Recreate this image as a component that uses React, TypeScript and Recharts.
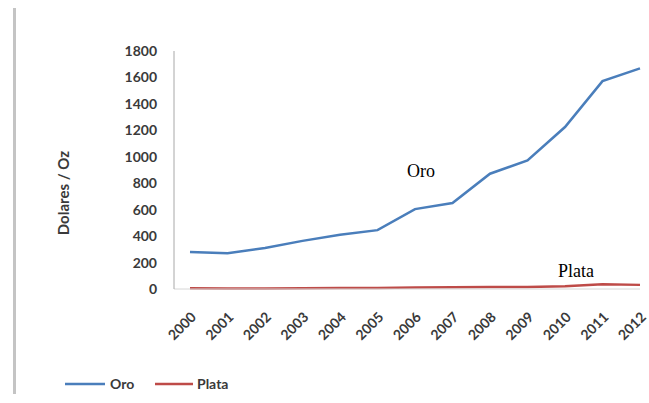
import { Line, LineChart, XAxis, YAxis } from "recharts";

const YEARS = ["2000", "2001", "2002", "2003", "2004", "2005", "2006", "2007", "2008", "2009", "2010", "2011", "2012"];
const ORO = [279, 271, 310, 364, 410, 445, 604, 650, 872, 972, 1225, 1572, 1669];
const PLATA = [5, 4.4, 4.6, 4.9, 6.7, 7.3, 11.6, 13.4, 15, 14.7, 20.2, 35.1, 31.2];
const Y_TICKS = [0, 200, 400, 600, 800, 1000, 1200, 1400, 1600, 1800];

const BLUE = "#4a7ebb";
const RED = "#be4b48";
const TEXT = "#3a3a3a";
const SANS = "Lato, 'Open Sans', sans-serif";
const SERIF = "'Liberation Serif', 'Times New Roman', serif";

const data = YEARS.map((year, i) => ({ year, oro: ORO[i], plata: PLATA[i] }));

function YearTick({ x, y, payload }: any) {
  const ax = x + 7;
  const ay = y + 21;
  return (
    <text
      x={ax}
      y={ay}
      transform={`rotate(-45 ${ax} ${ay})`}
      textAnchor="end"
      fontFamily={SANS}
      fontWeight={700}
      fontSize={14}
      fill={TEXT}
    >
      {payload.value}
    </text>
  );
}

export default function App() {
  return (
    <div style={{ position: "fixed", left: 0, top: 0, width: 649, height: 403, background: "#fff", overflow: "hidden" }}>
      <div style={{ position: "absolute", left: 13, top: 8, width: 3, height: 386, background: "#c4c4c4" }} />
      <LineChart width={649} height={403} data={data} margin={{ top: 51, right: 9, bottom: 64, left: 0 }}>
        <XAxis
          dataKey="year"
          height={50}
          padding={{ left: 16, right: 0 }}
          stroke="#d6d6d6"
          tickLine={false}
          interval={0}
          tick={<YearTick />}
        />
        <YAxis
          width={174}
          domain={[0, 1800]}
          ticks={Y_TICKS}
          stroke="#a8a8a8"
          tickLine={false}
          tickSize={0}
          tickMargin={17}
          tick={{ fontFamily: SANS, fontWeight: 700, fontSize: 14, fill: TEXT }}
        />
        <Line type="linear" dataKey="oro" stroke={BLUE} strokeWidth={2.5} dot={false} isAnimationActive={false} />
        <Line type="linear" dataKey="plata" stroke={RED} strokeWidth={2.5} dot={false} isAnimationActive={false} />
      </LineChart>
      <svg width={649} height={403} style={{ position: "absolute", left: 0, top: 0, pointerEvents: "none" }}>
        {/* axis title */}
        <text
          x={69}
          y={193}
          transform="rotate(-90 69 193)"
          textAnchor="middle"
          fontFamily={SANS}
          fontWeight={700}
          fontSize={15}
          fill={TEXT}
        >
          Dolares / Oz
        </text>
        {/* series labels */}
        <text x={407} y={177} fontFamily={SERIF} fontSize={18} fill="#000">
          Oro
        </text>
        <text x={558} y={277} fontFamily={SERIF} fontSize={18} fill="#000">
          Plata
        </text>
        {/* legend */}
        <line x1={65} y1={384} x2={105} y2={384} stroke={BLUE} strokeWidth={2.5} />
        <text x={110} y={389} fontFamily={SANS} fontWeight={700} fontSize={14} fill={TEXT}>
          Oro
        </text>
        <line x1={155} y1={384} x2={193} y2={384} stroke={RED} strokeWidth={2.5} />
        <text x={197} y={389} fontFamily={SANS} fontWeight={700} fontSize={14} fill={TEXT}>
          Plata
        </text>
      </svg>
    </div>
  );
}
